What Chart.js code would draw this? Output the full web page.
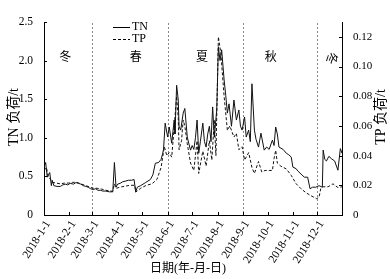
<!DOCTYPE html>
<html>
<head>
<meta charset="utf-8">
<script src="https://cdn.jsdelivr.net/npm/chart.js@4.4.0/dist/chart.umd.min.js"></script>
<style>
html, body { margin: 0; padding: 0; background: #fff; }
#wrap { width: 390px; height: 279px; }
</style>
</head>
<body>
<div id="wrap"><canvas id="loadChart" width="390" height="279"></canvas></div>
<script>
var FONT = '"Liberation Serif", "Noto Sans CJK SC", serif';

// x = day of year (0 = 2018-1-1)
var monthDays = [0, 31, 59, 90, 120, 151, 181, 212, 243, 273, 304, 334];
var monthLabels = ['2018-1-1', '2018-2-1', '2018-3-1', '2018-4-1', '2018-5-1', '2018-6-1',
                   '2018-7-1', '2018-8-1', '2018-9-1', '2018-10-1', '2018-11-1', '2018-12-1'];
var seasonBreaks = [59, 151, 243, 334];
var seasonNames = ['冬', '春', '夏', '秋', '冬'];
var seasonNameDays = [26, 112, 193, 277, 349];

var tnDays = [0, 2, 4, 7, 9, 10, 12, 16, 20, 23, 26, 29, 32, 36, 39, 42, 45, 48, 51, 54, 57, 60, 63, 66, 69, 72, 75, 80, 84,
              86, 88, 90, 93, 96, 100, 103, 107, 110, 112, 114, 118, 121, 124, 127, 130, 133, 136, 140, 143, 145, 146, 148,
              151, 153, 156, 159, 160, 162, 164, 165, 167, 170, 172, 175, 177, 179, 181, 183, 185, 187, 189, 191, 194, 196,
              198, 200, 202, 204, 206, 208, 211, 213, 215, 217, 220, 222, 224, 226, 229, 232, 235, 238, 240, 242, 245, 247,
              250, 252, 254, 257, 259, 262, 265, 269, 272, 275, 279, 281, 283, 285, 287, 292, 296, 299, 302, 304, 308, 310,
              314, 318, 322, 325, 328, 332, 336, 340, 341, 343, 345, 348, 351, 355, 359, 362, 364];
var tnValues = [0.62, 0.68, 0.49, 0.55, 0.38, 0.45, 0.38, 0.37, 0.37, 0.39, 0.40, 0.39, 0.41, 0.40, 0.42, 0.41, 0.40, 0.38, 0.37, 0.36, 0.34, 0.33, 0.34, 0.32, 0.32, 0.31, 0.31, 0.30, 0.30,
                0.68, 0.36, 0.40, 0.41, 0.43, 0.44, 0.45, 0.45, 0.46, 0.30, 0.36, 0.38, 0.40, 0.42, 0.44, 0.46, 0.52, 0.67, 0.68, 0.72, 0.80, 0.85, 1.19,
                1.01, 1.14, 0.93, 1.23, 1.05, 1.68, 1.49, 1.14, 1.10, 1.32, 1.38, 1.01, 0.92, 0.84, 0.90, 0.85, 1.00, 1.23, 0.80, 0.95, 1.19, 0.95,
                0.88, 1.05, 1.15, 0.95, 1.40, 1.01, 1.36, 2.18, 2.00, 2.14, 1.75, 1.55, 1.32, 1.44, 1.15, 1.49, 1.23, 1.36, 1.15, 1.10, 1.27, 1.01,
                1.10, 0.95, 1.70, 1.10, 0.98, 0.88, 1.06, 0.84, 0.88, 0.85, 0.97, 0.90, 1.14, 1.05, 0.88, 0.85, 0.80, 0.78, 0.75, 0.62, 0.60, 0.57,
                0.53, 0.49, 0.49, 0.34, 0.36, 0.36, 0.38, 0.36, 0.84, 0.72, 0.70, 0.76, 0.73, 0.70, 0.58, 0.86, 0.80];

var tpDays = [0, 3, 5, 8, 10, 15, 20, 25, 30, 35, 40, 45, 50, 55, 60, 65, 70, 77, 84, 86, 88, 95, 105, 111, 112, 118, 125, 132,
              138, 143, 147, 150, 153, 156, 159, 162, 164, 165, 168, 170, 172, 175, 179, 183, 187, 189, 194, 198, 202, 205,
              208, 210, 213, 216, 220, 224, 227, 232, 235, 238, 242, 245, 250, 254, 257, 262, 266, 270, 275, 279, 281, 283,
              285, 289, 296, 302, 308, 314, 320, 326, 333, 336, 338, 341, 347, 353, 359, 364];
var tpValues = [0.030, 0.032, 0.026, 0.024, 0.022, 0.0215, 0.021, 0.0215, 0.0215, 0.022, 0.022, 0.021, 0.020, 0.019, 0.018, 0.018, 0.0175, 0.0165, 0.016, 0.021, 0.018, 0.019, 0.020, 0.020, 0.0154, 0.018, 0.020, 0.021,
                0.024, 0.032, 0.046, 0.040, 0.042, 0.039, 0.059, 0.080, 0.065, 0.044, 0.050, 0.064, 0.060, 0.048, 0.035, 0.030, 0.050, 0.028, 0.043, 0.033, 0.050, 0.037,
                0.064, 0.040, 0.120, 0.109, 0.080, 0.057, 0.060, 0.0525, 0.055, 0.044, 0.046, 0.037, 0.042, 0.032, 0.028, 0.036, 0.029, 0.030, 0.030, 0.030, 0.038, 0.0436,
                0.035, 0.033, 0.031, 0.0267, 0.021, 0.0177, 0.015, 0.013, 0.011, 0.012, 0.0177, 0.019, 0.019, 0.021, 0.0185, 0.019];

function pairs(xs, ys) {
    return xs.map(function(x, i) { return {x: x, y: ys[i]}; });
}

var extras = {
    id: 'extras',
    beforeDatasetsDraw: function(chart) {
        var ctx = chart.ctx, x = chart.scales.x, area = chart.chartArea;
        ctx.save();
        ctx.strokeStyle = '#888';
        ctx.lineWidth = 1;
        ctx.setLineDash([2, 2]);
        seasonBreaks.forEach(function(d) {
            var px = Math.round(x.getPixelForValue(d)) + 0.5;
            ctx.beginPath();
            ctx.moveTo(px, area.top + 1);
            ctx.lineTo(px, area.bottom);
            ctx.stroke();
        });
        ctx.restore();
    },
    afterDraw: function(chart) {
        var ctx = chart.ctx, s = chart.scales, area = chart.chartArea;
        ctx.save();
        ctx.strokeStyle = '#000';
        ctx.lineWidth = 1;
        // inward tick marks
        s.x.ticks.forEach(function(t) {
            var px = Math.round(s.x.getPixelForValue(t.value)) + 0.5;
            ctx.beginPath(); ctx.moveTo(px, area.bottom); ctx.lineTo(px, area.bottom - 3); ctx.stroke();
        });
        s.y.ticks.forEach(function(t) {
            var py = Math.round(s.y.getPixelForValue(t.value)) + 0.5;
            ctx.beginPath(); ctx.moveTo(area.left, py); ctx.lineTo(area.left + 3, py); ctx.stroke();
        });
        s.y2.ticks.forEach(function(t) {
            var py = Math.round(s.y2.getPixelForValue(t.value)) + 0.5;
            ctx.beginPath(); ctx.moveTo(area.right, py); ctx.lineTo(area.right - 3, py); ctx.stroke();
        });

        ctx.fillStyle = '#000';
        ctx.font = '12px ' + FONT;
        ctx.textAlign = 'center';
        ctx.textBaseline = 'middle';
        // season names
        seasonNames.forEach(function(n, i) {
            var px = s.x.getPixelForValue(seasonNameDays[i]);
            var py = s.y.getPixelForValue(2.03);
            if (i === seasonNames.length - 1) {
                ctx.save();
                ctx.translate(px, py);
                ctx.rotate(Math.PI / 2);
                ctx.fillText(n, 0, 0);
                ctx.restore();
            } else {
                ctx.fillText(n, px, py);
            }
        });

        // axis titles
        ctx.font = '14px ' + FONT;
        ctx.save();
        ctx.translate(14, 117);
        ctx.rotate(-Math.PI / 2);
        ctx.fillText('TN 负荷/t', 0, 0);
        ctx.restore();
        ctx.save();
        ctx.translate(381, 117);
        ctx.rotate(-Math.PI / 2);
        ctx.fillText('TP 负荷/t', 0, 0);
        ctx.restore();
        ctx.font = '12px ' + FONT;
        ctx.fillText('日期(年-月-日)', 188, 269);

        // legend
        ctx.beginPath(); ctx.moveTo(113, 27.5); ctx.lineTo(130, 27.5); ctx.stroke();
        ctx.setLineDash([3, 2]);
        ctx.beginPath(); ctx.moveTo(113, 39.5); ctx.lineTo(130, 39.5); ctx.stroke();
        ctx.setLineDash([]);
        ctx.textAlign = 'left';
        ctx.fillText('TN', 132, 27);
        ctx.fillText('TP', 132, 39);
        ctx.restore();
    }
};

var ctx = document.getElementById('loadChart').getContext('2d');
var loadChart = new Chart(ctx, {
    type: 'line',
    data: {
        datasets: [{
            label: 'TN',
            data: pairs(tnDays, tnValues),
            yAxisID: 'y',
            borderColor: '#111',
            borderWidth: 1,
            pointRadius: 0,
            tension: 0
        }, {
            label: 'TP',
            data: pairs(tpDays, tpValues),
            yAxisID: 'y2',
            borderColor: '#111',
            borderWidth: 1,
            borderDash: [3, 2],
            pointRadius: 0,
            tension: 0
        }]
    },
    options: {
        responsive: false,
        animation: false,
        devicePixelRatio: 1,
        layout: { padding: { top: 22, left: 0, right: 0, bottom: 0 } },
        plugins: {
            legend: { display: false },
            tooltip: { enabled: false }
        },
        scales: {
            x: {
                type: 'linear',
                position: 'bottom',
                min: 0,
                max: 364,
                afterBuildTicks: function(scale) {
                    scale.ticks = monthDays.map(function(d) { return {value: d}; });
                },
                afterFit: function(scale) { scale.height = 64; },
                grid: { display: false },
                border: { display: true, color: '#000' },
                ticks: {
                    autoSkip: false,
                    minRotation: 58,
                    maxRotation: 58,
                    padding: -5,
                    labelOffset: 4,
                    color: '#000',
                    font: { family: FONT, size: 11.5 },
                    callback: function(v) {
                        var i = monthDays.indexOf(v);
                        return i >= 0 ? monthLabels[i] : '';
                    }
                }
            },
            y: {
                position: 'left',
                min: 0,
                max: 2.5,
                afterFit: function(scale) { scale.width = 44; },
                grid: { display: false },
                border: { display: true, color: '#000' },
                ticks: {
                    stepSize: 0.5,
                    padding: 3,
                    color: '#000',
                    font: { family: FONT, size: 11.5 },
                    callback: function(v) { return v === 0 ? '0' : v.toFixed(1); }
                }
            },
            y2: {
                position: 'right',
                min: 0,
                max: 0.13,
                afterFit: function(scale) { scale.width = 48; },
                grid: { display: false },
                border: { display: true, color: '#000' },
                ticks: {
                    stepSize: 0.02,
                    includeBounds: false,
                    padding: 3,
                    color: '#000',
                    font: { family: FONT, size: 11 },
                    callback: function(v) { return v === 0 ? '0' : v.toFixed(2); }
                }
            }
        }
    },
    plugins: [extras]
});
</script>
</body>
</html>
